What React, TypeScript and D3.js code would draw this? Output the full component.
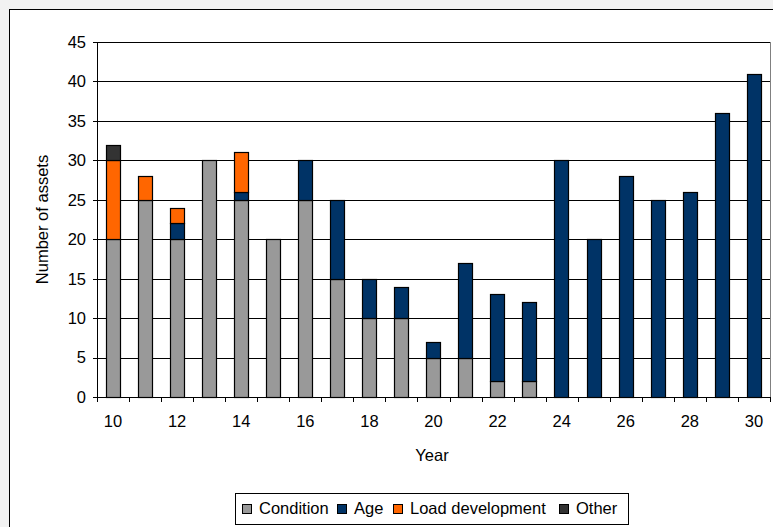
import React from "react";
import * as d3 from "d3";

const years = [10, 11, 12, 13, 14, 15, 16, 17, 18, 19, 20, 21, 22, 23, 24, 25, 26, 27, 28, 29, 30];
const condition = [20, 25, 20, 30, 25, 20, 25, 15, 10, 10, 5, 5, 2, 2, 0, 0, 0, 0, 0, 0, 0];
const age = [0, 0, 2, 0, 1, 0, 5, 10, 5, 4, 2, 12, 11, 10, 30, 20, 28, 25, 26, 36, 41];
const loadDevelopment = [10, 3, 2, 0, 5, 0, 0, 0, 0, 0, 0, 0, 0, 0, 0, 0, 0, 0, 0, 0, 0];
const other = [2, 0, 0, 0, 0, 0, 0, 0, 0, 0, 0, 0, 0, 0, 0, 0, 0, 0, 0, 0, 0];
const yTicks = [0, 5, 10, 15, 20, 25, 30, 35, 40, 45];
const xLabels = [10, 12, 14, 16, 18, 20, 22, 24, 26, 28, 30];

const seriesNames = ["Condition", "Age", "Load development", "Other"];
const seriesColors = ["#999999", "#003366", "#FF6600", "#333333"];

const W = 773;
const H = 527;
const plot = { left: 97, right: 770, top: 42, bottom: 397 };

export default function App() {
  const rows = years.map((y, i) => ({
    year: String(y),
    Condition: condition[i],
    Age: age[i],
    "Load development": loadDevelopment[i],
    Other: other[i],
  }));
  const stacked = d3.stack<any>().keys(seriesNames)(rows);

  const x = d3
    .scaleBand<string>()
    .domain(years.map(String))
    .range([plot.left, plot.right])
    .paddingInner(0.55)
    .paddingOuter(0.275);
  const band = (plot.right - plot.left) / years.length;
  const y = d3.scaleLinear().domain([0, 45]).range([plot.bottom, plot.top]);

  const font = "'Liberation Sans', Arial, sans-serif";
  const fs = 16.5;

  // legend swatch x positions
  const legendX = [242, 337, 393, 559];

  return (
    <svg
      width={W}
      height={H}
      style={{ position: "absolute", left: 0, top: 0 }}
      fontFamily={font}
    >
      <rect x={0} y={0} width={W} height={H} fill="#f2f2f2" />
      <rect x={9.5} y={9.5} width={W + 10} height={H + 10} fill="#fff" stroke="#000" strokeWidth={1} />

      {/* gridlines */}
      {yTicks.map((t) => (
        <line
          key={"g" + t}
          x1={plot.left}
          x2={plot.right}
          y1={Math.round(y(t)) + 0.5}
          y2={Math.round(y(t)) + 0.5}
          stroke="#000"
          strokeWidth={1}
        />
      ))}
      <line x1={plot.right + 0.5} x2={plot.right + 0.5} y1={plot.top} y2={plot.bottom} stroke="#808080" />

      {/* bars */}
      {stacked.map((s, si) =>
        s.map((d, i) => {
          if (d[1] - d[0] <= 0) return null;
          const y0 = y(d[0]);
          const y1 = y(d[1]);
          return (
            <rect
              key={si + "-" + i}
              x={Math.round(x(String(years[i]))!) + 0.5}
              y={Math.round(y1) + 0.5}
              width={Math.round(x.bandwidth())}
              height={Math.round(y0) - Math.round(y1)}
              fill={seriesColors[si]}
              stroke="#000"
              strokeWidth={1.2}
            />
          );
        })
      )}

      {/* y axis */}
      <line x1={plot.left + 0.5} x2={plot.left + 0.5} y1={plot.top} y2={plot.bottom} stroke="#000" />
      {yTicks.map((t) => (
        <g key={"y" + t}>
          <line
            x1={plot.left - 4}
            x2={plot.left}
            y1={Math.round(y(t)) + 0.5}
            y2={Math.round(y(t)) + 0.5}
            stroke="#000"
          />
          <text x={plot.left - 11} y={y(t)} dy="0.36em" textAnchor="end" fontSize={fs} fill="#000">
            {t}
          </text>
        </g>
      ))}

      {/* x axis */}
      <line x1={plot.left} x2={plot.right} y1={plot.bottom + 0.5} y2={plot.bottom + 0.5} stroke="#000" />
      {d3.range(years.length + 1).map((i) => (
        <line
          key={"xt" + i}
          x1={Math.round(plot.left + i * band) + 0.5}
          x2={Math.round(plot.left + i * band) + 0.5}
          y1={plot.bottom}
          y2={plot.bottom + 5}
          stroke="#000"
        />
      ))}
      {xLabels.map((v) => (
        <text
          key={"xl" + v}
          x={x(String(v))! + x.bandwidth() / 2}
          y={427}
          textAnchor="middle"
          fontSize={fs}
          fill="#000"
        >
          {v}
        </text>
      ))}

      <text x={432} y={461} textAnchor="middle" fontSize={fs} fill="#000">
        Year
      </text>
      <text
        transform={`translate(48,${(plot.top + plot.bottom) / 2}) rotate(-90)`}
        textAnchor="middle"
        fontSize={fs}
        fill="#000"
      >
        Number of assets
      </text>

      {/* legend */}
      <rect x={235.5} y={493.5} width={393} height={31} fill="#fff" stroke="#000" />
      {seriesNames.map((name, i) => (
        <g key={name}>
          <rect x={legendX[i] + 0.5} y={504.5} width={9} height={9} fill={seriesColors[i]} stroke="#000" />
          <text x={legendX[i] + 17} y={514} fontSize={fs} fill="#000">
            {name}
          </text>
        </g>
      ))}
    </svg>
  );
}
